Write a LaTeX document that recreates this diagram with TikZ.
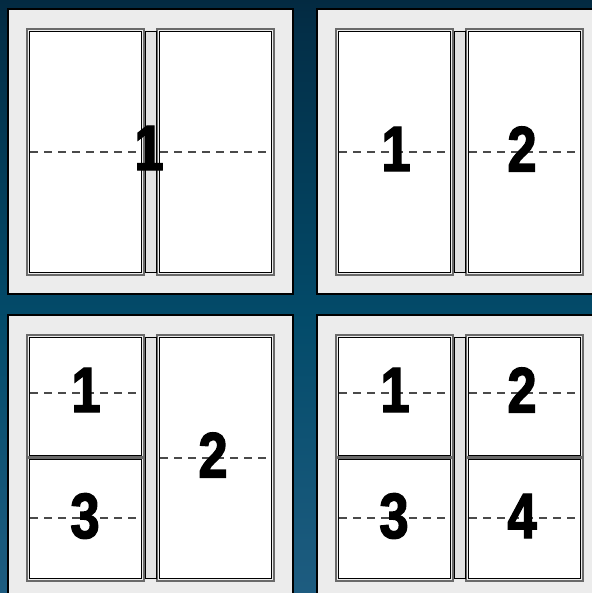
\documentclass[tikz,border=0pt]{standalone}
\usepackage{fontspec}
\newfontface\digitface{Liberation Sans Bold}[FakeBold=2.2,FakeStretch=0.82]
\definecolor{bgtop}{HTML}{020209}
\definecolor{bghigh}{HTML}{041424}
\definecolor{bgupper}{HTML}{032F48}
\definecolor{bgmid}{HTML}{034B6A}
\definecolor{bgbot}{HTML}{3B6F98}
\definecolor{panelgray}{HTML}{ECECEC}
\definecolor{halogray}{HTML}{6A6A6A}
\definecolor{divgray}{HTML}{E2E2E2}
\definecolor{dashgray}{HTML}{4A4A4A}
\pgfdeclareverticalshading{bgshade}{100bp}{color(0bp)=(bgbot); color(48bp)=(bgmid); color(72bp)=(bgupper); color(88bp)=(bghigh); color(100bp)=(bgtop)}
\tikzset{
  panelbox/.style={fill=panelgray, draw=black, line width=1.9pt},
  halo/.style={draw=halogray, line width=1.5pt},
  pane/.style={fill=white, draw=black, line width=0.9pt},
  divider/.style={fill=divgray, draw=black, line width=0.75pt},
  guide/.style={draw=dashgray, line width=0.8pt, dash pattern=on 6pt off 4.5pt},
  digit/.style={font=\digitface\fontsize{48}{48}\selectfont, inner sep=0pt, text=black}
}
\newcommand\halorect[4]{\draw[halo] (#1-2.5,#2-2.5) rectangle (#3+2.5,#4+2.5);}
\begin{document}
\begin{tikzpicture}[x=0.75pt,y=-0.75pt]
\useasboundingbox (0,0) rectangle (592,593);
\clip (0,0) rectangle (592,593);
\fill[shading=bgshade] (0,0) rectangle (592,593);

% ---------- panel 1 : one view ----------
\begin{scope}
  \draw[panelbox] (8,9) rectangle (293,294);
  \halorect{29.5}{31.5}{141.5}{272.5}
  \halorect{159.5}{31.5}{271.5}{272.5}
  \draw[pane] (29.5,31.5) rectangle (141.5,272.5);
  \draw[divider] (145,31.5) rectangle (156,272.5);
  \draw[pane] (159.5,31.5) rectangle (271.5,272.5);
  \draw[guide] (30,152) -- (141,152);
  \draw[guide] (160,152) -- (271,152);
  \node[digit] (p1a) at (149,148) {1};
\end{scope}

% ---------- panel 2 : two views ----------
\begin{scope}[shift={(309,0)}]
  \draw[panelbox] (8,9) rectangle (293,294);
  \halorect{29.5}{31.5}{141.5}{272.5}
  \halorect{159.5}{31.5}{271.5}{272.5}
  \draw[pane] (29.5,31.5) rectangle (141.5,272.5);
  \draw[divider] (145,31.5) rectangle (156,272.5);
  \draw[pane] (159.5,31.5) rectangle (271.5,272.5);
  \draw[guide] (30,152) -- (141,152);
  \draw[guide] (160,152) -- (271,152);
  \node[digit] (p2a) at (87,149) {1};
  \node[digit] (p2b) at (213,149) {2};
\end{scope}

% ---------- panel 3 : three views ----------
\begin{scope}[shift={(0,306)}]
  \draw[panelbox] (8,9) rectangle (293,294);
  \halorect{29.5}{31.5}{141.5}{149.5}
  \halorect{29.5}{153.5}{141.5}{272.5}
  \halorect{159.5}{31.5}{271.5}{272.5}
  \draw[pane] (29.5,31.5) rectangle (141.5,149.5);
  \draw[pane] (29.5,153.5) rectangle (141.5,272.5);
  \draw[divider] (145,31.5) rectangle (156,272.5);
  \draw[pane] (159.5,31.5) rectangle (271.5,272.5);
  \draw[guide] (30,87) -- (141,87);
  \draw[guide] (30,212) -- (141,212);
  \draw[guide] (160,152) -- (271,152);
  \node[digit] (p3a) at (86,84) {1};
  \node[digit] (p3c) at (85,210) {3};
  \node[digit] (p3b) at (213,149) {2};
\end{scope}

% ---------- panel 4 : four views ----------
\begin{scope}[shift={(309,306)}]
  \draw[panelbox] (8,9) rectangle (293,294);
  \halorect{29.5}{31.5}{141.5}{149.5}
  \halorect{29.5}{153.5}{141.5}{272.5}
  \halorect{159.5}{31.5}{271.5}{149.5}
  \halorect{159.5}{153.5}{271.5}{272.5}
  \draw[pane] (29.5,31.5) rectangle (141.5,149.5);
  \draw[pane] (29.5,153.5) rectangle (141.5,272.5);
  \draw[divider] (145,31.5) rectangle (156,272.5);
  \draw[pane] (159.5,31.5) rectangle (271.5,149.5);
  \draw[pane] (159.5,153.5) rectangle (271.5,272.5);
  \draw[guide] (30,87) -- (141,87);
  \draw[guide] (30,212) -- (141,212);
  \draw[guide] (160,87) -- (271,87);
  \draw[guide] (160,212) -- (271,212);
  \node[digit] (p4a) at (86,84) {1};
  \node[digit] (p4b) at (213,84) {2};
  \node[digit] (p4c) at (85,210) {3};
  \node[digit] (p4d) at (213,210) {4};
\end{scope}
\end{tikzpicture}
\end{document}
